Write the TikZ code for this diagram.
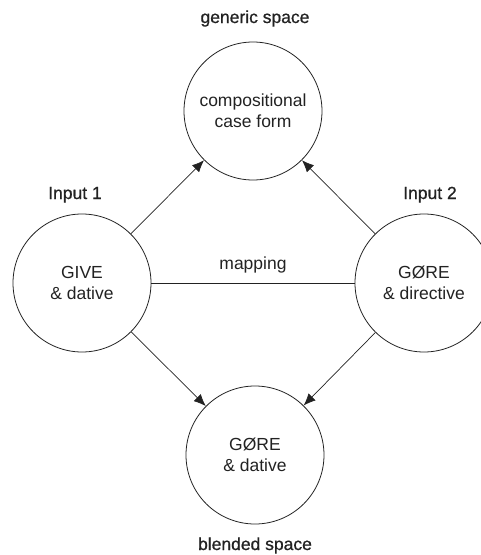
\documentclass[tikz,border=0pt]{standalone}
\usepackage{fontspec}
\setmainfont{Liberation Sans}
\newfontfamily\labelfont[FakeBold=0.8]{Liberation Sans}
\usetikzlibrary{arrows.meta}
\definecolor{ink}{HTML}{222222}
\begin{document}
\begin{tikzpicture}[x=1pt,y=-1pt,
  space/.style={circle,draw=ink,line width=0.8pt,minimum size=138pt,inner sep=0pt,
    align=center,font=\fontsize{17.5}{21}\selectfont,text=ink},
  lbl/.style={anchor=base,font=\labelfont\fontsize{17.5}{21}\selectfont,text=ink},
  conn/.style={draw=ink,line width=0.7pt},
  arr/.style={conn,-{Latex[length=12pt,width=10pt]}}]
\useasboundingbox (0,0) rectangle (480,555);
\node[space] (gen) at (253,111) {compositional\\case form};
\node[space] (in1) at (82,283) {GIVE\\\& dative};
\node[space] (in2) at (424,283) {GØRE\\\& directive};
\node[space] (bl) at (255,455) {GØRE\\\& dative};
\node[lbl] (lgen) at (255,23) {generic space};
\node[lbl] (lin1) at (75,199) {Input 1};
\node[lbl] (lin2) at (430,199) {Input 2};
\node[lbl] (lbl) at (255,550) {blended space};
\draw[conn] (in1) -- node[lbl,font=\fontsize{17.5}{21}\selectfont,anchor=base,yshift=14pt] (map) {mapping} (in2);
\draw[arr] (in1) -- (gen);
\draw[arr] (in2) -- (gen);
\draw[arr] (in1) -- (bl);
\draw[arr] (in2) -- (bl);
\end{tikzpicture}
\end{document}
